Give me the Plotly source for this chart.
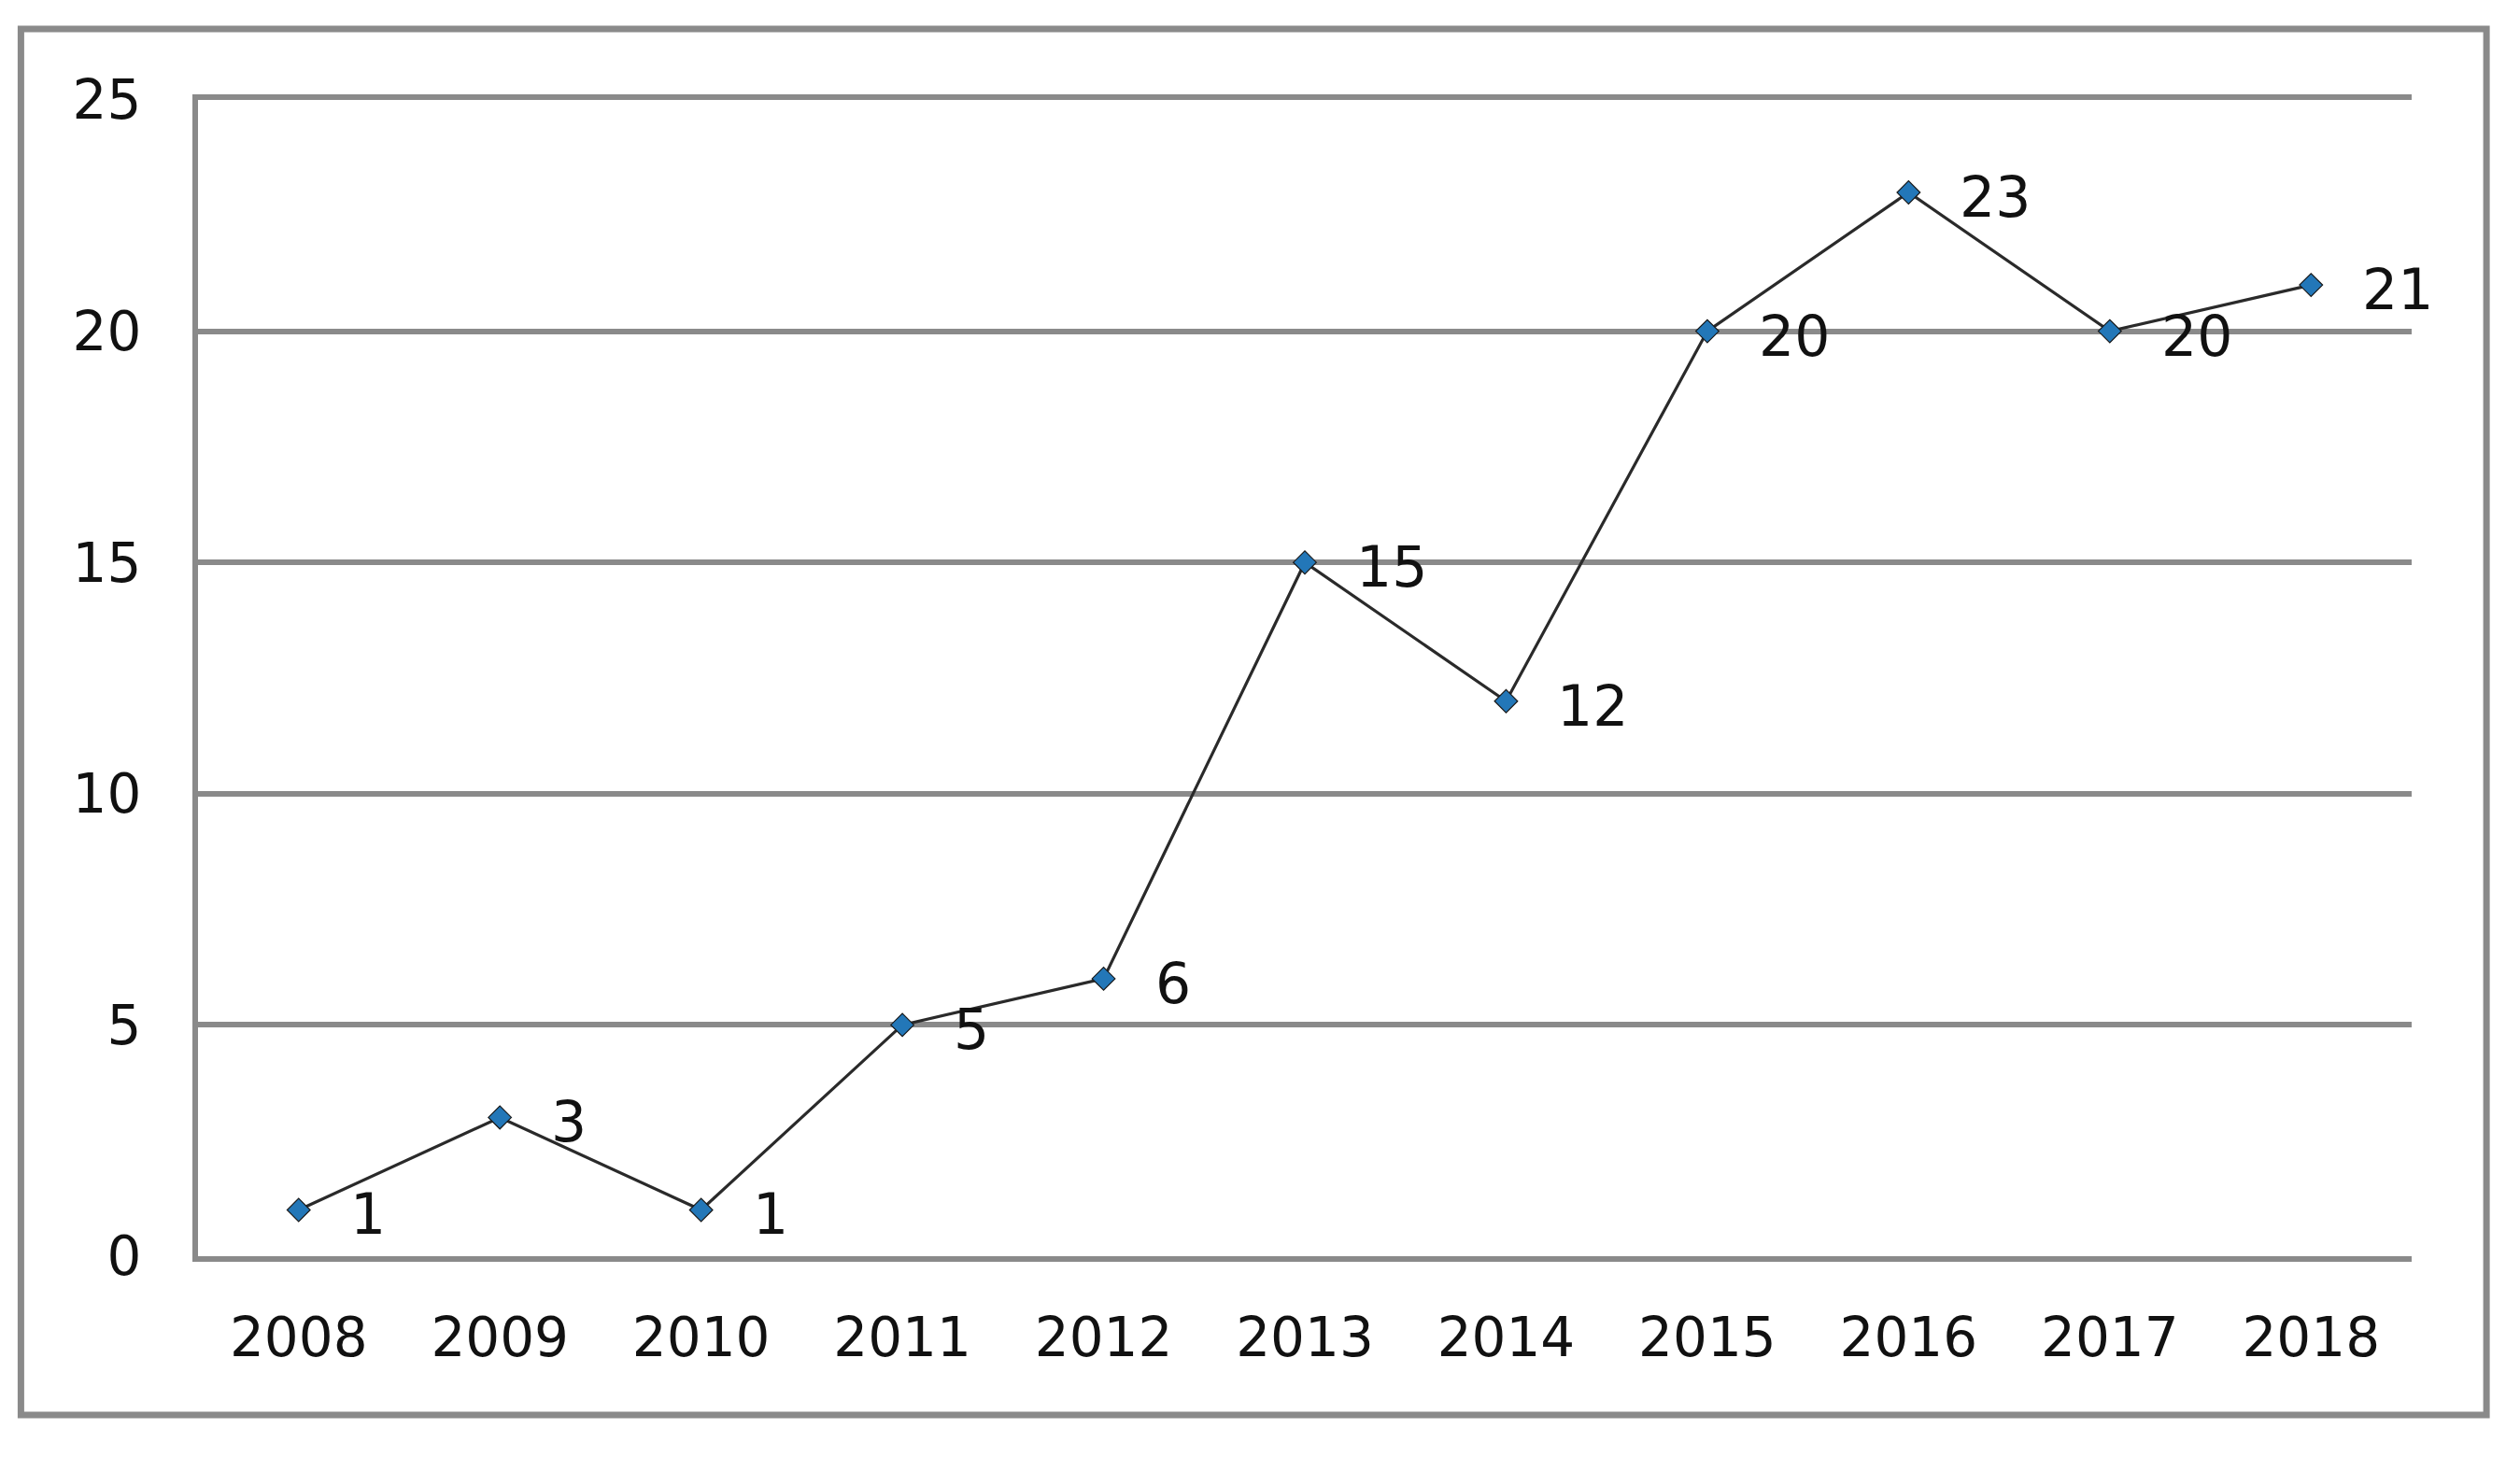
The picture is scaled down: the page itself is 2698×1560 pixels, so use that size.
import plotly.graph_objects as go

years = ["2008", "2009", "2010", "2011", "2012", "2013", "2014", "2015", "2016", "2017", "2018"]
counts = [1, 3, 1, 5, 6, 15, 12, 20, 23, 20, 21]
y_ticks = [0, 5, 10, 15, 20, 25]

GRAY = "#8a8a8a"

fig = go.Figure()
fig.add_trace(go.Scatter(
    x=years, y=counts, mode="lines+markers",
    line=dict(color="#2a2a2a", width=3.2),
    marker=dict(symbol="diamond", size=19, color="#2377b8",
                line=dict(color="#1a1a1a", width=1.2)),
    showlegend=False, cliponaxis=False,
))

# data labels: category axis annotations use the category index
for i, v in enumerate(counts):
    fig.add_annotation(x=i, y=v, xref="x", yref="y", text=str(v), showarrow=False,
                       xanchor="left", yanchor="middle", xshift=53, yshift=-5,
                       font=dict(family="DejaVu Sans", size=60, color="#111111"))

fig.add_shape(type="rect", xref="paper", yref="paper",
              x0=-0.0800, x1=1.0338, y0=-0.1373, y1=1.0614,
              line=dict(color=GRAY, width=7), fillcolor="rgba(0,0,0,0)", layer="below")

fig.update_layout(
    width=2682, height=1544,
    margin=dict(l=204, r=108, t=99, b=207, autoexpand=False),
    paper_bgcolor="white", plot_bgcolor="white",
    font=dict(family="DejaVu Sans", size=58, color="#111111"),
)
fig.update_xaxes(
    type="category", range=[-0.5, 10.5], showgrid=False, automargin=False,
    showline=True, mirror=True, linecolor=GRAY, linewidth=6, ticks="",
    ticklabelstandoff=31, tickfont=dict(size=58),
)
fig.update_yaxes(
    range=[0, 25], tickvals=y_ticks, showgrid=True, gridcolor=GRAY, gridwidth=6,
    automargin=False, zeroline=False, showline=True, linecolor=GRAY, linewidth=6,
    ticks="", ticklabelstandoff=43, tickfont=dict(size=58),
)

fig.write_html("out.html")
